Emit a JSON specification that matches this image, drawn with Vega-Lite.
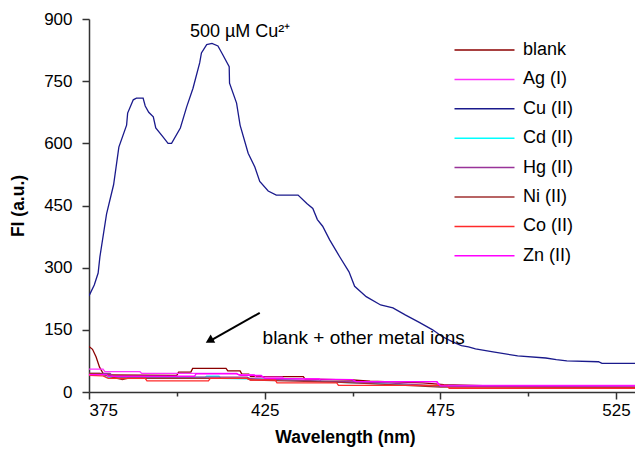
{
  "$schema": "https://vega.github.io/schema/vega-lite/v6.json",
  "width": 546,
  "height": 373,
  "autosize": {"type": "none"},
  "padding": {"left": 89, "top": 19, "right": 0, "bottom": 59},
  "background": "white",
  "config": {
    "view": {"stroke": null},
    "font": "Liberation Sans",
    "axis": {"grid": false, "labelFont": "Liberation Sans", "labelColor": "black", "labelFontSize": 17, "titleFont": "Liberation Sans", "titleColor": "black", "domainColor": "#333", "domainWidth": 1.5, "tickColor": "#333", "tickWidth": 1.5}
  },
  "datasets": {
    "spectra": [
      {"s":"blank","x":375,"y":110},{"s":"blank","x":376,"y":103},{"s":"blank","x":377,"y":85},{"s":"blank","x":378,"y":60},{"s":"blank","x":379,"y":45},{"s":"blank","x":380,"y":41},{"s":"blank","x":400,"y":40},{"s":"blank","x":400.5,"y":48},{"s":"blank","x":404,"y":48},{"s":"blank","x":404.5,"y":57},{"s":"blank","x":414,"y":57},{"s":"blank","x":414.5,"y":51},{"s":"blank","x":418,"y":51},{"s":"blank","x":418.5,"y":43},{"s":"blank","x":420.5,"y":43},{"s":"blank","x":421,"y":37},{"s":"blank","x":436,"y":37},{"s":"blank","x":436.5,"y":31},{"s":"blank","x":450,"y":29},{"s":"blank","x":455,"y":26},{"s":"blank","x":470,"y":22},{"s":"blank","x":476,"y":18},{"s":"blank","x":490,"y":15},{"s":"blank","x":510,"y":12},{"s":"blank","x":530.4,"y":12},

      {"s":"Ag (I)","x":375,"y":55},{"s":"Ag (I)","x":379,"y":55},{"s":"Ag (I)","x":379.5,"y":49},{"s":"Ag (I)","x":389.5,"y":49},{"s":"Ag (I)","x":390,"y":45},{"s":"Ag (I)","x":417,"y":45},{"s":"Ag (I)","x":417.5,"y":42},{"s":"Ag (I)","x":422,"y":42},{"s":"Ag (I)","x":422.5,"y":36},{"s":"Ag (I)","x":430,"y":36},{"s":"Ag (I)","x":430.5,"y":32},{"s":"Ag (I)","x":440.5,"y":32},{"s":"Ag (I)","x":441,"y":25},{"s":"Ag (I)","x":474,"y":25},{"s":"Ag (I)","x":474.5,"y":16},{"s":"Ag (I)","x":530.4,"y":16},

      {"s":"Cu (II)","x":375,"y":232},{"s":"Cu (II)","x":376.5,"y":258},{"s":"Cu (II)","x":377.6,"y":287},{"s":"Cu (II)","x":378.1,"y":326},{"s":"Cu (II)","x":380,"y":430},{"s":"Cu (II)","x":382,"y":500},{"s":"Cu (II)","x":383.5,"y":591},{"s":"Cu (II)","x":385.7,"y":644},{"s":"Cu (II)","x":386,"y":673},{"s":"Cu (II)","x":387.6,"y":705},{"s":"Cu (II)","x":388.5,"y":709},{"s":"Cu (II)","x":390.4,"y":709},{"s":"Cu (II)","x":391,"y":690},{"s":"Cu (II)","x":392,"y":675},{"s":"Cu (II)","x":393.3,"y":664},{"s":"Cu (II)","x":394,"y":637},{"s":"Cu (II)","x":396,"y":616},{"s":"Cu (II)","x":397.5,"y":600},{"s":"Cu (II)","x":398.5,"y":600},{"s":"Cu (II)","x":401,"y":637},{"s":"Cu (II)","x":402.8,"y":688},{"s":"Cu (II)","x":404.6,"y":733},{"s":"Cu (II)","x":406.5,"y":794},{"s":"Cu (II)","x":407,"y":818},{"s":"Cu (II)","x":408.5,"y":838},{"s":"Cu (II)","x":410,"y":841},{"s":"Cu (II)","x":411.7,"y":835},{"s":"Cu (II)","x":413,"y":815},{"s":"Cu (II)","x":414.9,"y":785},{"s":"Cu (II)","x":415,"y":745},{"s":"Cu (II)","x":417,"y":697},{"s":"Cu (II)","x":418,"y":644},{"s":"Cu (II)","x":420.3,"y":576},{"s":"Cu (II)","x":422.2,"y":543},{"s":"Cu (II)","x":423.6,"y":508},{"s":"Cu (II)","x":426,"y":485},{"s":"Cu (II)","x":428.3,"y":475},{"s":"Cu (II)","x":434.5,"y":475},{"s":"Cu (II)","x":437,"y":455},{"s":"Cu (II)","x":438.7,"y":443},{"s":"Cu (II)","x":440,"y":416},{"s":"Cu (II)","x":441.5,"y":400},{"s":"Cu (II)","x":443.5,"y":367},{"s":"Cu (II)","x":446.3,"y":327},{"s":"Cu (II)","x":449,"y":290},{"s":"Cu (II)","x":450.6,"y":255},{"s":"Cu (II)","x":453.9,"y":230},{"s":"Cu (II)","x":458,"y":210},{"s":"Cu (II)","x":461.5,"y":203},{"s":"Cu (II)","x":465,"y":186},{"s":"Cu (II)","x":469,"y":168},{"s":"Cu (II)","x":472.8,"y":150},{"s":"Cu (II)","x":475.5,"y":134},{"s":"Cu (II)","x":478.5,"y":121},{"s":"Cu (II)","x":481,"y":112},{"s":"Cu (II)","x":483,"y":109},{"s":"Cu (II)","x":485,"y":104},{"s":"Cu (II)","x":490,"y":97},{"s":"Cu (II)","x":497,"y":87},{"s":"Cu (II)","x":505,"y":82},{"s":"Cu (II)","x":508,"y":78},{"s":"Cu (II)","x":511,"y":75},{"s":"Cu (II)","x":520,"y":73},{"s":"Cu (II)","x":521,"y":69},{"s":"Cu (II)","x":530.4,"y":69},

      {"s":"Cd (II)","x":375,"y":42},{"s":"Cd (II)","x":379,"y":42},{"s":"Cd (II)","x":380,"y":35},{"s":"Cd (II)","x":408,"y":35},{"s":"Cd (II)","x":408.5,"y":38},{"s":"Cd (II)","x":412,"y":38},{"s":"Cd (II)","x":412.5,"y":33},{"s":"Cd (II)","x":430,"y":30},{"s":"Cd (II)","x":445,"y":24},{"s":"Cd (II)","x":475,"y":14},{"s":"Cd (II)","x":530.4,"y":11},

      {"s":"Hg (II)","x":375,"y":45},{"s":"Hg (II)","x":381,"y":45},{"s":"Hg (II)","x":382,"y":36},{"s":"Hg (II)","x":420,"y":36},{"s":"Hg (II)","x":421,"y":32},{"s":"Hg (II)","x":440,"y":27},{"s":"Hg (II)","x":460,"y":22},{"s":"Hg (II)","x":475,"y":14},{"s":"Hg (II)","x":530.4,"y":12},

      {"s":"Ni (II)","x":375,"y":45},{"s":"Ni (II)","x":378,"y":45},{"s":"Ni (II)","x":381,"y":37},{"s":"Ni (II)","x":383,"y":33},{"s":"Ni (II)","x":384.5,"y":30},{"s":"Ni (II)","x":386,"y":33},{"s":"Ni (II)","x":420,"y":33},{"s":"Ni (II)","x":421,"y":29},{"s":"Ni (II)","x":445,"y":24},{"s":"Ni (II)","x":455,"y":20},{"s":"Ni (II)","x":475,"y":12},{"s":"Ni (II)","x":530.4,"y":11},

      {"s":"Co (II)","x":375,"y":40},{"s":"Co (II)","x":379,"y":39},{"s":"Co (II)","x":380.5,"y":33},{"s":"Co (II)","x":391,"y":33},{"s":"Co (II)","x":391.5,"y":27},{"s":"Co (II)","x":409,"y":27},{"s":"Co (II)","x":409.5,"y":33},{"s":"Co (II)","x":420,"y":33},{"s":"Co (II)","x":421,"y":29},{"s":"Co (II)","x":428,"y":29},{"s":"Co (II)","x":428.5,"y":22},{"s":"Co (II)","x":445.5,"y":22},{"s":"Co (II)","x":446,"y":16},{"s":"Co (II)","x":477,"y":16},{"s":"Co (II)","x":477.5,"y":9},{"s":"Co (II)","x":530.4,"y":9},

      {"s":"Zn (II)","x":375,"y":42},{"s":"Zn (II)","x":380,"y":42},{"s":"Zn (II)","x":380.5,"y":38},{"s":"Zn (II)","x":405,"y":38},{"s":"Zn (II)","x":405.5,"y":44},{"s":"Zn (II)","x":417,"y":44},{"s":"Zn (II)","x":418,"y":40},{"s":"Zn (II)","x":424,"y":40},{"s":"Zn (II)","x":425,"y":33},{"s":"Zn (II)","x":450,"y":30},{"s":"Zn (II)","x":451,"y":25},{"s":"Zn (II)","x":474,"y":25},{"s":"Zn (II)","x":475,"y":15},{"s":"Zn (II)","x":530.4,"y":15}
    ],
    "title": [
      {"x": 418.0, "y": 857, "t": "500 µM Cu²⁺"}
    ],
    "note": [
      {"x": 424.4, "y": 116, "t": "blank + other metal ions"}
    ],
    "arrow": [
      {"x": 423.6, "y": 191, "x2": 410.2, "y2": 127}
    ],
    "head": [
      {"x": 409.6, "y": 125.5}
    ]
  },
  "layer": [
    {
      "data": {"name": "spectra"},
      "mark": {"type": "line", "strokeWidth": 1.3, "clip": true},
      "encoding": {
        "x": {
          "field": "x", "type": "quantitative",
          "scale": {"domain": [375, 530.4], "nice": false, "zero": false},
          "axis": {
            "values": [375, 400, 425, 450, 475, 500, 525],
            "labelExpr": "(datum.value - 375) % 50 === 0 ? datum.label : ''",
            "tickSize": {"condition": {"test": "(datum.value - 375) % 50 === 0", "value": 7}, "value": 4},
            "labelPadding": 3,
            "title": "Wavelength (nm)",
            "titleFontSize": 17.5, "titleFontWeight": "bold",
            "titleX": 256, "titleY": 50, "titleBaseline": "alphabetic", "titleAnchor": "middle", "titleAlign": "center"
          }
        },
        "y": {
          "field": "y", "type": "quantitative",
          "scale": {"domain": [0, 900], "nice": false},
          "axis": {
            "values": [0, 75, 150, 225, 300, 375, 450, 525, 600, 675, 750, 825, 900],
            "labelExpr": "datum.value % 150 === 0 ? datum.label : ''",
            "tickSize": {"condition": {"test": "datum.value % 150 === 0", "value": 7}, "value": 4},
            "labelPadding": 10,
            "title": "FI (a.u.)",
            "titleFontSize": 17.5, "titleFontWeight": "bold",
            "titleX": -71, "titleBaseline": "middle"
          }
        },
        "color": {
          "field": "s", "type": "nominal",
          "sort": ["blank", "Ag (I)", "Cu (II)", "Cd (II)", "Hg (II)", "Ni (II)", "Co (II)", "Zn (II)"],
          "scale": {
            "domain": ["blank", "Ag (I)", "Cu (II)", "Cd (II)", "Hg (II)", "Ni (II)", "Co (II)", "Zn (II)"],
            "range": ["#8B0000", "#FF33FF", "#1A1A8C", "#00FFFF", "#993399", "#A03030", "#FF2A2A", "#FF00FF"]
          },
          "legend": {
            "title": null,
            "orient": "none",
            "legendX": 384.5,
            "legendY": 20,
            "symbolType": "M-3,0H3",
            "symbolSize": 400,
            "symbolStrokeWidth": 1.5,
            "labelFontSize": 18,
            "labelFont": "Liberation Sans",
            "labelColor": "black",
            "labelOffset": 27.5,
            "rowPadding": 9.4
          }
        }
      }
    },
    {
      "data": {"name": "title"},
      "mark": {"type": "text", "fontSize": 18, "font": "Liberation Sans", "baseline": "alphabetic", "align": "center", "color": "black"},
      "encoding": {
        "x": {"field": "x", "type": "quantitative"},
        "y": {"field": "y", "type": "quantitative"},
        "text": {"field": "t"}
      }
    },
    {
      "data": {"name": "note"},
      "mark": {"type": "text", "fontSize": 19, "font": "Liberation Sans", "baseline": "alphabetic", "align": "left", "color": "black"},
      "encoding": {
        "x": {"field": "x", "type": "quantitative"},
        "y": {"field": "y", "type": "quantitative"},
        "text": {"field": "t"}
      }
    },
    {
      "data": {"name": "arrow"},
      "mark": {"type": "rule", "strokeWidth": 2, "color": "black"},
      "encoding": {
        "x": {"field": "x", "type": "quantitative"},
        "y": {"field": "y", "type": "quantitative"},
        "x2": {"field": "x2"},
        "y2": {"field": "y2"}
      }
    },
    {
      "data": {"name": "head"},
      "mark": {"type": "point", "shape": "triangle", "filled": true, "color": "black", "size": 90, "angle": 241, "opacity": 1},
      "encoding": {
        "x": {"field": "x", "type": "quantitative"},
        "y": {"field": "y", "type": "quantitative"}
      }
    }
  ]
}
